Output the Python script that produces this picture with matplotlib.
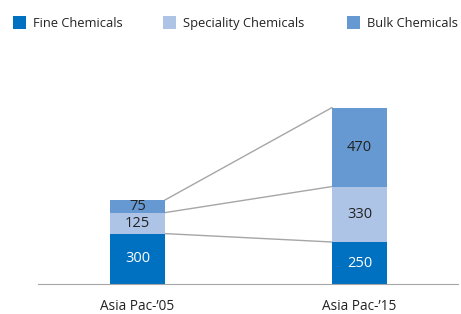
import matplotlib
matplotlib.use("Agg")
import matplotlib.pyplot as plt
from matplotlib.patches import Rectangle
import numpy as np

plt.rcParams['font.family'] = ['Open Sans', 'DejaVu Sans']

categories = ["Asia Pac-’05", "Asia Pac-’15"]
series_names = ["Fine Chemicals", "Speciality Chemicals", "Bulk Chemicals"]
fine = [300, 250]
speciality = [125, 330]
bulk = [75, 470]
colors = ["#0070C0", "#AEC4E6", "#6699D1"]
text_colors = ["white", "#222222", "#222222"]

fig = plt.figure(figsize=(4.61, 3.14), dpi=100)
ax = fig.add_axes([38/461, 30/314, 420/461, 234/314])

x = np.arange(len(categories))
w = 0.248
series = [fine, speciality, bulk]
bottoms = np.zeros(len(categories))
tops = []
for vals, c, tc in zip(series, colors, text_colors):
    vals = np.array(vals, dtype=float)
    ax.bar(x, vals, w, bottom=bottoms, color=c, edgecolor='none', zorder=2)
    for xi, b, v in zip(x, bottoms, vals):
        ax.text(xi, b + v/2, f"{int(v)}", ha='center', va='center', color=tc, fontsize=10.5, zorder=3)
    bottoms = bottoms + vals
    tops.append(bottoms.copy())

# connecting lines between bar tops
for t in tops:
    ax.plot([x[0] + w/2, x[1] - w/2], [t[0], t[1]], color='#A6A6A6', lw=1, zorder=1)

ax.set_xlim(-0.448, 1.444)
ax.set_ylim(0, 1393)
for s in ['top', 'right', 'left']:
    ax.spines[s].set_visible(False)
ax.spines['bottom'].set_color('#A6A6A6')
ax.set_yticks([])
ax.set_xticks(x)
ax.set_xticklabels(categories, fontsize=9.8, color='#222222')
ax.tick_params(axis='x', length=0, pad=11)

# legend
leg_x = [13, 163, 347]
for lx, name, c in zip(leg_x, series_names, colors):
    fig.patches.append(Rectangle((lx/461, 1 - 29/314), 13/461, 13/314, transform=fig.transFigure,
                                 facecolor=c, edgecolor='none'))
    fig.text((lx + 20)/461, 1 - 23.5/314, name, fontsize=9.3, color='#222222', va='center', ha='left')

fig.savefig("out.png", dpi=100)
